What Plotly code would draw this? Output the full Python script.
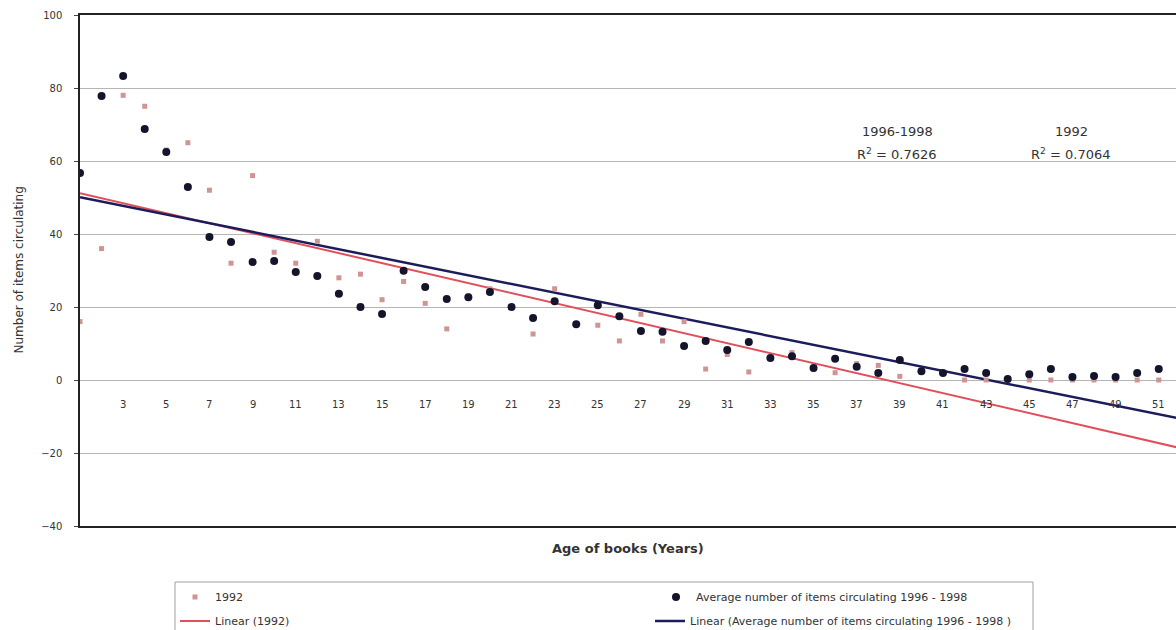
import plotly.graph_objects as go

# ---- data ----
years = list(range(1, 53))
avg_1996_1998 = [56.7, 77.8, 83.3, 68.8, 62.5, 52.9, 39.2, 37.8, 32.3, 32.6,
                 29.6, 28.5, 23.6, 20.0, 18.1, 29.9, 25.5, 22.2, 22.7, 24.1,
                 20.0, 17.0, 21.6, 15.3, 20.5, 17.5, 13.4, 13.2, 9.3, 10.7,
                 8.2, 10.4, 6.0, 6.5, 3.3, 5.8, 3.6, 1.9, 5.5, 2.4,
                 1.9, 3.0, 1.9, 0.3, 1.6, 3.0, 0.8, 1.1, 0.8, 1.9,
                 3.0, 3.0]
v_1992 = [16.0, 36.0, 78.0, 75.0, 63.0, 65.0, 52.0, 32.0, 56.0, 35.0,
          32.0, 38.0, 28.0, 29.0, 22.0, 27.0, 21.0, 14.0, 23.0, 25.0,
          20.0, 12.6, 25.0, 15.5, 15.0, 10.7, 18.0, 10.7, 16.0, 3.0,
          7.0, 2.2, 6.0, 7.5, 3.0, 2.0, 4.5, 4.0, 1.0, 2.5,
          2.0, 0.0, 0.0, 0.0, 0.0, 0.0, 0.0, 0.0, 0.0, 0.0,
          0.0, 0.0]

# linear trend lines (value at year 1 and slope per year)
trend_1992_start, trend_1992_slope = 51.2, -1.37
trend_avg_start, trend_avg_slope = 50.1, -1.19
trend_x = [1, 52]

x_tick_labels = list(range(3, 52, 2))
y_ticks = [-40, -20, 0, 20, 40, 60, 80, 100]

r2_labels = [("1996-1998", "R<sup>2</sup> = 0.7626"), ("1992", "R<sup>2</sup> = 0.7064")]

FONT = "DejaVu Sans"
TXT = "#333333"

trend_1992 = [trend_1992_start + trend_1992_slope * (x - 1) for x in trend_x]
trend_avg = [trend_avg_start + trend_avg_slope * (x - 1) for x in trend_x]

fig = go.Figure()

fig.add_trace(go.Scatter(x=trend_x, y=trend_1992, mode="lines",
                         line=dict(color="#e0505c", width=2),
                         name="Linear (1992)", legend="legend3"))
fig.add_trace(go.Scatter(x=trend_x, y=trend_avg, mode="lines",
                         line=dict(color="#1c1c5a", width=2.5),
                         name="Linear (Average number of items circulating 1996 - 1998 )",
                         legend="legend4"))
fig.add_trace(go.Scatter(x=years, y=v_1992, mode="markers",
                         marker=dict(symbol="square", size=5, color="#cf9494"),
                         name="1992", legend="legend"))
fig.add_trace(go.Scatter(x=years, y=avg_1996_1998, mode="markers",
                         marker=dict(symbol="circle", size=8, color="#14142c"),
                         name="Average number of items circulating 1996 - 1998",
                         legend="legend2"))

# plot geometry (pixels)
L, R, T, B = 80, 1176, 15, 526
W, H = R - L, B - T

def px(xp):
    return (xp - L) / W

def py(yp):
    return (B - yp) / H

leg_font = dict(family=FONT, size=11, color=TXT)
common = dict(bgcolor="rgba(0,0,0,0)", borderwidth=0, font=leg_font,
              xanchor="left", yanchor="middle", orientation="v")

fig.update_layout(
    width=1176, height=630,
    margin=dict(l=L, r=1176 - R, t=T, b=630 - B, autoexpand=False),
    paper_bgcolor="white", plot_bgcolor="white",
    font=dict(family=FONT, size=10, color=TXT),
    legend=dict(x=px(175), y=py(597), **common),
    legend2=dict(x=px(656), y=py(597), **common),
    legend3=dict(x=px(175), y=py(621), **common),
    legend4=dict(x=px(650), y=py(621), **common),
    xaxis=dict(range=[1, 51.8], showgrid=False, zeroline=False,
               showticklabels=False, ticks="",
               showline=True, mirror=True, linecolor="#222222", linewidth=1.5),
    yaxis=dict(range=[-40, 100], tickvals=y_ticks, showgrid=True,
               gridcolor="#b5b5b5", gridwidth=1, zeroline=False,
               showline=True, linecolor="#222222", linewidth=1.5,
               ticks="outside", ticklen=4, tickcolor="#444444",
               ticklabelstandoff=10,
               tickfont=dict(family=FONT, size=10, color=TXT)),
    showlegend=True,
)

# x tick labels sit next to the zero line (category axis crosses at 0)
for t in x_tick_labels:
    fig.add_annotation(x=t, y=0, xref="x", yref="y", text=str(t),
                       showarrow=False, yanchor="middle", yshift=-24,
                       font=dict(family=FONT, size=10, color=TXT))

# axis titles
fig.add_annotation(x=0.5, y=py(548), xref="paper", yref="paper",
                   text="<b>Age of books (Years)</b>", showarrow=False,
                   xanchor="center", yanchor="middle",
                   font=dict(family=FONT, size=13, color=TXT))
fig.add_annotation(x=px(18), y=0.5, xref="paper", yref="paper",
                   text="Number of items circulating", textangle=-90,
                   showarrow=False, xanchor="center", yanchor="middle",
                   font=dict(family=FONT, size=12, color=TXT))

# R^2 labels
for (head, r2), xc in zip(r2_labels, [897, 1071]):
    fig.add_annotation(x=px(xc), y=py(131), xref="paper", yref="paper",
                       text=head, showarrow=False, xanchor="center",
                       yanchor="middle", font=dict(family=FONT, size=13, color=TXT))
    fig.add_annotation(x=px(xc), y=py(154), xref="paper", yref="paper",
                       text=r2, showarrow=False, xanchor="center",
                       yanchor="middle", font=dict(family=FONT, size=13, color=TXT))

# legend frame
fig.add_shape(type="rect", xref="paper", yref="paper",
              x0=px(175), x1=px(1033), y0=py(645), y1=py(582),
              line=dict(color="#a0a0a0", width=1), fillcolor="rgba(0,0,0,0)")

fig.write_html("out.html")
